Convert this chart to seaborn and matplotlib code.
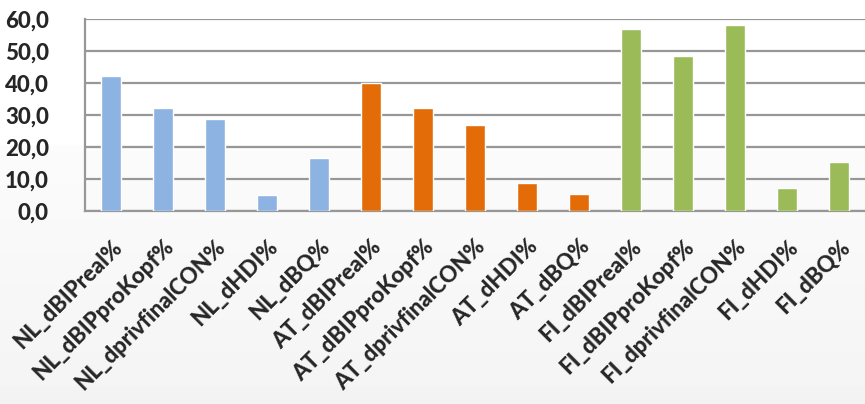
import numpy as np
import pandas as pd
import matplotlib.pyplot as plt
import seaborn as sns

sns.set_theme(style="white")
plt.rcParams['font.family'] = ['Lato', 'DejaVu Sans']

# data
labels = ['NL_dBIPreal%', 'NL_dBIPproKopf%', 'NL_dprivfinalCON%', 'NL_dHDI%', 'NL_dBQ%',
          'AT_dBIPreal%', 'AT_dBIPproKopf%', 'AT_dprivfinalCON%', 'AT_dHDI%', 'AT_dBQ%',
          'FI_dBIPreal%', 'FI_dBIPproKopf%', 'FI_dprivfinalCON%', 'FI_dHDI%', 'FI_dBQ%']
values = [42.1, 32.1, 28.8, 4.9, 16.5,
          40.0, 32.2, 26.9, 8.8, 5.3,
          56.9, 48.4, 58.1, 7.2, 15.3]
country = ['NL'] * 5 + ['AT'] * 5 + ['FI'] * 5
colors = {'NL': '#8DB3E2', 'AT': '#E36C09', 'FI': '#9BBB59'}

df = pd.DataFrame({'label': labels, 'value': values, 'country': country})

fig = plt.figure(figsize=(8.65, 4.04), dpi=100)

# faint grey background towards the bottom
bg = fig.add_axes([0, 0, 1, 1], zorder=-1)
grad = np.concatenate([np.ones(145), np.linspace(0.985, 0.955, 259)])[:, None]
bg.imshow(grad, cmap='gray', vmin=0, vmax=1, aspect='auto', extent=[0, 1, 0, 1])
bg.axis('off')

ax = fig.add_axes([85 / 865, 1 - 211 / 404, 780 / 865, 192 / 404])
ax.patch.set_alpha(0)
sns.barplot(data=df, x='label', y='value', hue='country', palette=colors,
            dodge=False, width=0.4, saturation=1, legend=False, ax=ax, zorder=3)

ax.set_ylim(0, 60)
ax.set_xlim(-0.5, len(labels) - 0.5)
ax.set_yticks(np.arange(0, 61, 10))
ax.set_yticklabels([f'{v:.1f}'.replace('.', ',') for v in range(0, 61, 10)],
                   fontsize=16, fontweight='black')
ax.yaxis.grid(True, color='#979797', linewidth=1.6, zorder=0)
ax.tick_params(axis='y', length=0, pad=26)
ax.tick_params(axis='x', length=0, pad=18)
plt.setp(ax.get_xticklabels(), rotation=45, ha='right', rotation_mode='anchor',
         fontsize=16, fontweight='black')
ax.set_xlabel('')
ax.set_ylabel('')
for s in ['top', 'right']:
    ax.spines[s].set_visible(False)
for s in ['left', 'bottom']:
    ax.spines[s].set_color('#979797')
    ax.spines[s].set_linewidth(1.6)

fig.savefig('out.png', dpi=100)
